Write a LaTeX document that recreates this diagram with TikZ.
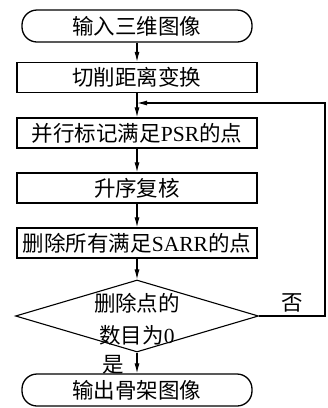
\documentclass[tikz,border=0pt]{standalone}
\usepackage{fontspec}
\setmainfont{Liberation Serif}
\newfontfamily\cjk{Noto Sans CJK SC}
\usetikzlibrary{shapes.geometric,arrows.meta}
\begin{document}
\begin{tikzpicture}[x=1pt,y=-1pt,
  every node/.style={font=\cjk\fontsize{21.5}{32}\selectfont},
  term/.style={draw,line width=1.3pt,rounded corners=15pt,minimum width=230pt,minimum height=32pt,inner sep=0pt},
  proc/.style={draw,line width=1.3pt,minimum width=240pt,minimum height=30pt,inner sep=0pt},
  dec/.style={draw,line width=1.1pt,diamond,aspect=3.375,minimum width=243pt,minimum height=72pt,inner sep=0pt},
  lbl/.style={inner sep=0pt,align=center},
  arr/.style={line width=1.1pt,-{Latex[length=10pt,width=5pt]}},
  ln/.style={line width=1.1pt}]
\useasboundingbox (0,0) rectangle (328,408);
\node[term] (start) at (137,26) {输入三维图像};
\node[proc] (b1) at (137,77.5) {切削距离变换};
\node[proc] (b2) at (137,133) {并行标记满足\rmfamily PSR\cjk 的点};
\node[proc] (b3) at (137,188) {升序复核};
\node[proc] (b4) at (137,243) {删除所有满足\rmfamily SARR\cjk 的点};
\node[dec] (dia) at (137,316) {};
\node[lbl] (diat) at (137,319) {删除点的\\数目为\rmfamily 0};
\node[term] (end) at (137,390) {输出骨架图像};
\coordinate (fb) at (137,103);
\coordinate (r1) at (325,316);
\coordinate (r2) at (325,103);
\draw[arr] (start) -- (b1);
\draw[arr] (b1) -- (b2);
\draw[arr] (b2) -- (b3);
\draw[arr] (b3) -- (b4);
\draw[arr] (b4) -- (dia);
\draw[arr] (dia) -- (end);
\draw[arr] (dia.east) -- (r1) -- (r2) -- (fb);
\node[lbl] (no) at (292,303) {否};
\node[lbl] (yes) at (113,365) {是};
\end{tikzpicture}
\end{document}
